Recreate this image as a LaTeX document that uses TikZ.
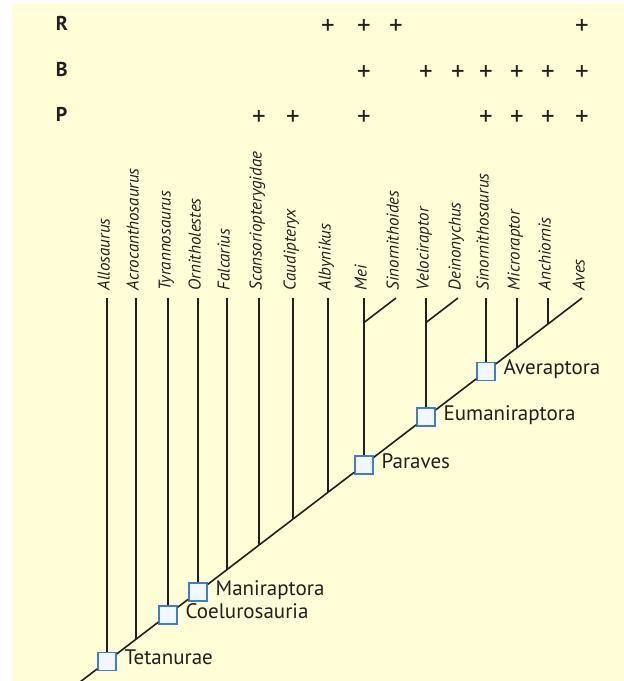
\documentclass[tikz,border=0pt]{standalone}
\usepackage{xcolor}
\usepackage{fontspec}
\setmainfont{PT Sans}
\usepackage{tikz}
\usetikzlibrary{positioning}

\definecolor{paper}{RGB}{255,254,214}
\definecolor{ink}{RGB}{35,31,32}
\definecolor{cladeblue}{RGB}{59,125,216}
\definecolor{boxfill}{RGB}{242,247,255}

\begin{document}
\begin{tikzpicture}[x=1pt,y=-1pt,color=ink,line width=1.6pt,
    taxon/.style={rotate=90,anchor=west,inner sep=0pt,inner xsep=7pt,
                  font=\fontsize{17}{20}\selectfont\itshape,
                  text height=0.72em,text depth=0.2em},
    clade/.style={draw=cladeblue,fill=boxfill,line width=1.7pt,
                  minimum size=18pt,inner sep=0pt},
    cladename/.style={inner sep=0pt,font=\fontsize{21}{25}\selectfont,
                      text height=0.7em,text depth=0pt},
    row/.style={anchor=west,inner sep=0pt,font=\fontsize{20}{24}\selectfont\bfseries,
                text height=0.7em,text depth=0pt},
    hit/.style={inner sep=0pt,font=\fontsize{27}{30}\selectfont}]

  \fill[white] (0,0) rectangle (624,681);
  \fill[paper] (12,4) rectangle (624,681);
  \useasboundingbox (0,0) rectangle (624,681);

  % taxa along the top
  \node[taxon] (allo)   at (107,298) {Allosaurus};
  \node[taxon] (acro)   at (136,298) {Acrocanthosaurus};
  \node[taxon] (tyr)    at (168,298) {Tyrannosaurus};
  \node[taxon] (orni)   at (198,298) {Ornitholestes};
  \node[taxon] (falc)   at (227,298) {Falcarius};
  \node[taxon] (scans)  at (259,298) {Scansoriopterygidae};
  \node[taxon] (caud)   at (293,298) {Caudipteryx};
  \node[taxon] (alby)   at (328,298) {Albynikus};
  \node[taxon] (mei)    at (364,298) {Mei};
  \node[taxon] (sinoid) at (396,298) {Sinornithoides};
  \node[taxon] (velo)   at (426,298) {Velociraptor};
  \node[taxon] (deino)  at (458,298) {Deinonychus};
  \node[taxon] (sinos)  at (486,298) {Sinornithosaurus};
  \node[taxon] (micro)  at (517,298) {Microraptor};
  \node[taxon] (anch)   at (548,298) {Anchiornis};
  \node[taxon] (aves)   at (582,298) {Aves};

  % unnamed splits
  \coordinate (root)   at (80,682);
  \coordinate (acroj)  at (136,639.2);
  \coordinate (falcj)  at (227,569.6);
  \coordinate (scansj) at (259,545.1);
  \coordinate (caudj)  at (293,519.1);
  \coordinate (albyj)  at (328,492.3);
  \coordinate (microj) at (517,347.7);
  \coordinate (anchj)  at (548,324);
  \coordinate (meij)   at (364,322.5);
  \coordinate (veloj)  at (426,322.5);

  % named clades
  \node[clade] (tetanurae)     at (107,661.4) {};
  \node[clade] (coelurosauria) at (168,614.7) {};
  \node[clade] (maniraptora)   at (198,591.8) {};
  \node[clade] (paraves)       at (364,464.8) {};
  \node[clade] (eumaniraptora) at (426,417.3) {};
  \node[clade] (averaptora)    at (486,371.4) {};

  \node[cladename, right=7pt of tetanurae]     (tetanurae-n)     {Tetanurae};
  \node[cladename, right=7pt of coelurosauria] (coelurosauria-n) {Coelurosauria};
  \node[cladename, right=7pt of maniraptora]   (maniraptora-n)   {Maniraptora};
  \node[cladename, right=7pt of paraves]       (paraves-n)       {Paraves};
  \node[cladename, right=7pt of eumaniraptora] (eumaniraptora-n) {Eumaniraptora};
  \node[cladename, right=7pt of averaptora]    (averaptora-n)    {Averaptora};

  % backbone
  \path (root)          edge (tetanurae)
        (tetanurae)     edge (acroj)
        (acroj)         edge (coelurosauria)
        (coelurosauria) edge (maniraptora)
        (maniraptora)   edge (falcj)
        (falcj)         edge (scansj)
        (scansj)        edge (caudj)
        (caudj)         edge (albyj)
        (albyj)         edge (paraves)
        (paraves)       edge (eumaniraptora)
        (eumaniraptora) edge (averaptora)
        (averaptora)    edge (microj)
        (microj)        edge (anchj)
        (anchj)         edge (aves.west);

  % branches
  \path (allo.west)   edge (tetanurae)
        (acro.west)   edge (acroj)
        (tyr.west)    edge (coelurosauria)
        (orni.west)   edge (maniraptora)
        (falc.west)   edge (falcj)
        (scans.west)  edge (scansj)
        (caud.west)   edge (caudj)
        (alby.west)   edge (albyj)
        (mei.west)    edge (paraves)
        (sinoid.west) edge (meij)
        (velo.west)   edge (eumaniraptora)
        (deino.west)  edge (veloj)
        (sinos.west)  edge (averaptora)
        (micro.west)  edge (microj)
        (anch.west)   edge (anchj);

  % character table
  \node[row] (rowR) at (55,27)  {R};
  \node[row] (rowB) at (55,73)  {B};
  \node[row] (rowP) at (55,118) {P};

  \node[hit] (R-alby)   at (alby.west |- rowR.west)   {+};
  \node[hit] (R-mei)    at (mei.west |- rowR.west)    {+};
  \node[hit] (R-sinoid) at (sinoid.west |- rowR.west) {+};
  \node[hit] (R-aves)   at (aves.west |- rowR.west)   {+};

  \node[hit] (B-mei)    at (mei.west |- rowB.west)    {+};
  \node[hit] (B-velo)   at (velo.west |- rowB.west)   {+};
  \node[hit] (B-deino)  at (deino.west |- rowB.west)  {+};
  \node[hit] (B-sinos)  at (sinos.west |- rowB.west)  {+};
  \node[hit] (B-micro)  at (micro.west |- rowB.west)  {+};
  \node[hit] (B-anch)   at (anch.west |- rowB.west)   {+};
  \node[hit] (B-aves)   at (aves.west |- rowB.west)   {+};

  \node[hit] (P-scans)  at (scans.west |- rowP.west)  {+};
  \node[hit] (P-caud)   at (caud.west |- rowP.west)   {+};
  \node[hit] (P-mei)    at (mei.west |- rowP.west)    {+};
  \node[hit] (P-sinos)  at (sinos.west |- rowP.west)  {+};
  \node[hit] (P-micro)  at (micro.west |- rowP.west)  {+};
  \node[hit] (P-anch)   at (anch.west |- rowP.west)   {+};
  \node[hit] (P-aves)   at (aves.west |- rowP.west)   {+};
\end{tikzpicture}
\end{document}
